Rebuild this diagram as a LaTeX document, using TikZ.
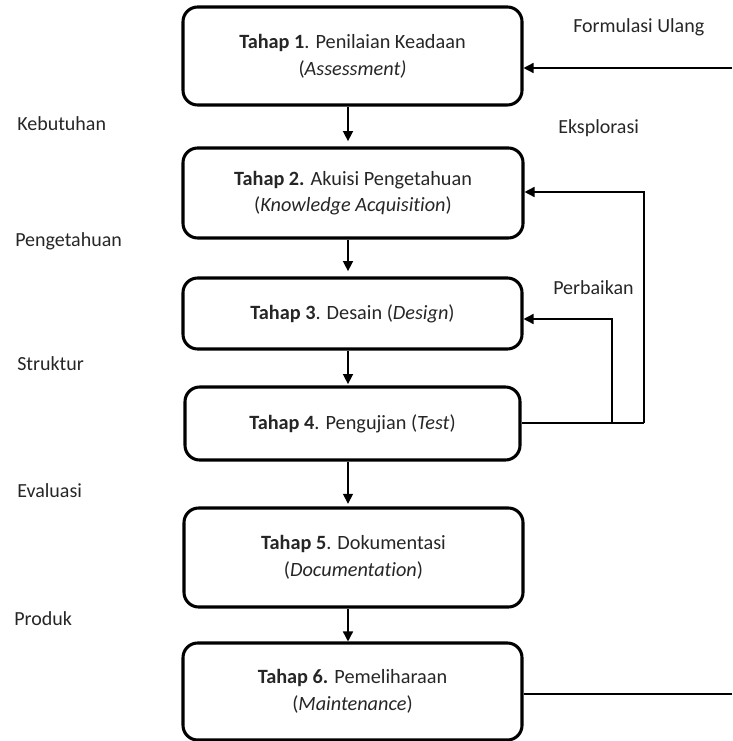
\documentclass[tikz,border=0pt]{standalone}
\usepackage{fontspec}
\setmainfont{Carlito}[Ligatures=NoCommon]
\usetikzlibrary{arrows.meta}
\begin{document}
\begin{tikzpicture}[x=0.75pt,y=-0.75pt,
  stagebox/.style={draw=black, line width=2.3pt, rounded corners=11pt, inner sep=0pt,
    align=center, font=\fontsize{15.2}{20}\selectfont, text=black!85},
  lbl/.style={anchor=west, inner sep=0pt, font=\fontsize{15}{18}\selectfont, text=black!85},
  arr/.style={line width=1.1pt, -{Triangle[length=7.5pt,width=7.5pt]}},
  ln/.style={line width=1.1pt}]
\useasboundingbox (0,0) rectangle (732,741);
% stage boxes
\node[stagebox, minimum width=339*0.75pt, minimum height=98*0.75pt] (b1) at (352.5,56)
  {\textbf{Tahap 1}. Penilaian Keadaan\\(\textit{Assessment)}};
\node[stagebox, minimum width=340*0.75pt, minimum height=90*0.75pt] (b2) at (353,193)
  {\textbf{Tahap 2.} Akuisi Pengetahuan\\(\textit{Knowledge Acquisition})};
\node[stagebox, minimum width=339*0.75pt, minimum height=71*0.75pt] (b3) at (352.5,313.5)
  {\textbf{Tahap 3}. Desain (\textit{Design})};
\node[stagebox, minimum width=335*0.75pt, minimum height=73*0.75pt] (b4) at (352.5,423.5)
  {\textbf{Tahap 4}. Pengujian (\textit{Test})};
\node[stagebox, minimum width=339*0.75pt, minimum height=99*0.75pt] (b5) at (353.5,557.5)
  {\textbf{Tahap 5}. Dokumentasi\\(\textit{Documentation})};
\node[stagebox, minimum width=339*0.75pt, minimum height=97*0.75pt] (b6) at (352.5,691.5)
  {\textbf{Tahap 6.} Pemeliharaan\\(\textit{Maintenance})};
% side labels
\node[lbl] (l1) at (17,124) {Kebutuhan};
\node[lbl] (l2) at (15,241) {Pengetahuan};
\node[lbl] (l3) at (17,364) {Struktur};
\node[lbl] (l4) at (17,491) {Evaluasi};
\node[lbl] (l5) at (14,619) {Produk};
\node[lbl] (r1) at (573,27) {Formulasi Ulang};
\node[lbl] (r2) at (558,128) {Eksplorasi};
\node[lbl] (r3) at (553,288) {Perbaikan};
% down arrows
\coordinate (ax) at (348,0);
\draw[arr, shorten >=4pt] (b1.south -| ax) -- (b2.north -| ax);
\draw[arr, shorten >=4pt] (b2.south -| ax) -- (b3.north -| ax);
\draw[arr, shorten >=1pt] (b3.south -| ax) -- (b4.north -| ax);
\draw[arr, shorten >=2pt] (b4.south -| ax) -- (b5.north -| ax);
\draw[arr] (b5.south -| ax) -- (b6.north -| ax);
% feedback loops
\coordinate (f4) at (644,423);
\coordinate (f3) at (612,423);
\coordinate (t2) at (0,192);
\coordinate (t3) at (0,319);
\draw[ln] (b4.east |- f4) -- (f4);
\draw[arr] (f4) |- (b2.east |- t2);
\draw[arr] (f3) |- (b3.east |- t3);
% formulation loop ends
\coordinate (e1) at (732,68);
\coordinate (e6) at (732,694);
\draw[arr] (e1) -- (b1.east |- e1);
\draw[ln] (b6.east |- e6) -- (e6);
\end{tikzpicture}
\end{document}
